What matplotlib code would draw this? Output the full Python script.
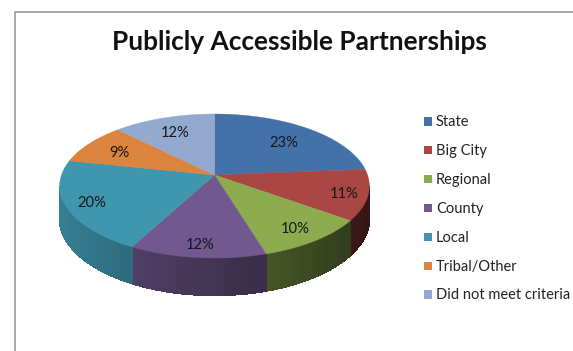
import matplotlib
matplotlib.use("Agg")
import matplotlib.pyplot as plt
import numpy as np
from matplotlib.patches import Rectangle

categories = ["State", "Big City", "Regional", "County", "Local", "Tribal/Other", "Did not meet criteria"]
percents = [23, 11, 10, 12, 20, 9, 12]
colors = ["#4472A8", "#AA4644", "#8CAA4E", "#71598F", "#4096AE", "#DB843D", "#93A9CE"]
label_radius = [0.72, 0.85, 0.82, 0.85, 0.84, 0.75, 0.75]

# pie shape in pixels: apex, half width, half height, perspective, rim depth
cx, cy = 214.5, 175
b, a, k = 153, 70.3, 0.153
depth = 32


def project(u, v):
    w = 1 + k * v
    return cx + b * u / w, cy - a * v / w


def rim_shade(t):
    return 0.58 - 0.28 * np.sin(t)


fig = plt.figure(figsize=(5.73, 3.51), dpi=100)
ax = fig.add_axes([0, 0, 1, 1])
ax.set_xlim(0, 573)
ax.set_ylim(351, 0)
ax.axis("off")

# frame of the chart area
ax.plot([14.5, 14.5, 573], [351, 11.5, 11.5], color="#a8a8a8", lw=1.4, solid_capstyle="butt")

fractions = np.array(percents) / sum(percents)
edges = np.concatenate([[0], np.cumsum(fractions)]) * 2 * np.pi

# rim, only the part facing the viewer
for i in range(len(percents)):
    th = np.linspace(edges[i], edges[i + 1], 120)
    th = th[np.cos(th) < -k]
    if len(th) < 2:
        continue
    base = np.array(matplotlib.colors.to_rgb(colors[i]))
    x, y = project(np.sin(th), np.cos(th))
    d = depth / (1 + k * np.cos(th))
    ax.fill(np.r_[x, x[::-1]], np.r_[y, (y + d)[::-1]], color=base * rim_shade(th.mean()), lw=0, zorder=2)
    for j in range(len(th) - 1):
        c = base * rim_shade((th[j] + th[j + 1]) / 2)
        ax.fill([x[j], x[j + 1], x[j + 1], x[j]],
                [y[j], y[j + 1], y[j + 1] + d[j + 1] - 0.6, y[j] + d[j] - 0.6],
                color=c, lw=0.8, antialiased=False, zorder=2)

# top face
for i in range(len(percents)):
    th = np.linspace(edges[i], edges[i + 1], 80)
    x, y = project(np.sin(th), np.cos(th))
    ax.fill(np.r_[cx, x], np.r_[cy, y], color=colors[i], lw=0.3, zorder=3)

    mid = (edges[i] + edges[i + 1]) / 2
    lx, ly = project(label_radius[i] * np.sin(mid), label_radius[i] * np.cos(mid))
    ax.text(lx, ly + 2, "%d%%" % percents[i], ha="center", va="center", family="Lato",
            fontsize=10.6, color="#14181e", zorder=4)

ax.text(299.5, 42.5, "Publicly Accessible Partnerships", ha="center", va="center",
        family="Lato", fontweight="bold", fontsize=18.9, color="#111111")

# legend
leg_y = 121
for i, name in enumerate(categories):
    y = leg_y + i * 28.9
    ax.add_patch(Rectangle((423.5, y - 4), 8.5, 8.5, color=colors[i], lw=0))
    ax.text(436, y + 1, name, ha="left", va="center", family="Lato", fontsize=10.5, color="#222222")

fig.savefig("out.png", dpi=100)
